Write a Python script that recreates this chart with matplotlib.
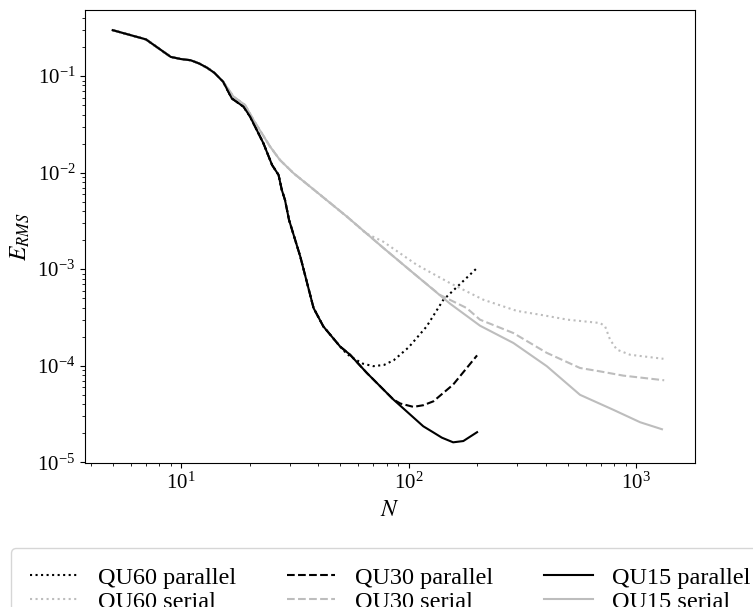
import matplotlib
matplotlib.use("Agg")
import matplotlib.pyplot as plt

plt.rcParams['font.family'] = ['Liberation Serif', 'DejaVu Serif']
plt.rcParams['mathtext.fontset'] = 'stix'
plt.rcParams['font.size'] = 15

# shared start of every run (parallel and serial agree here)
n_head = [5, 7, 9, 10, 11, 12, 13, 14]
e_head = [0.299, 0.24, 0.158, 0.150, 0.146, 0.135, 0.122, 0.108]

# parallel runs, common part until they split
n_par = [15.3, 16.7, 18.8, 20.1, 23.0, 25.1, 26.8, 27.7, 28.6, 29.8, 33.4, 38.2, 42.2, 50.0]
e_par = [0.0873, 0.0587, 0.0482, 0.038, 0.0201, 0.012, 0.00947, 0.00662, 0.00522, 0.00324,
         0.00135, 3.96e-4, 2.55e-4, 1.58e-4]

n_qu15_par = [55.3, 65.5, 85.7, 116, 128, 140, 157, 174, 200]
e_qu15_par = [1.30e-4, 8.43e-5, 4.47e-5, 2.36e-5, 2.05e-5, 1.8e-5, 1.61e-5, 1.66e-5, 2.05e-5]

n_qu60_par = [53.6, 57, 63, 70, 78, 86, 100, 120, 142, 200]
e_qu60_par = [1.32e-4, 1.2e-4, 1.05e-4, 9.9e-5, 1.02e-4, 1.14e-4, 1.55e-4, 2.55e-4, 4.8e-4, 1.03e-3]

n_qu30_par = [55.3, 65.5, 85.7, 92, 105, 116, 128.5, 157, 200]
e_qu30_par = [1.30e-4, 8.43e-5, 4.47e-5, 4.06e-5, 3.75e-5, 3.9e-5, 4.28e-5, 6.38e-5, 1.28e-4]

# serial runs, common part until they split
n_ser = [15.3, 17.0, 19.1, 20.8, 24.6, 27.2, 31.2, 36.9, 53.5]
e_ser = [0.0873, 0.0611, 0.0501, 0.0351, 0.0186, 0.0135, 0.00986, 0.00716, 0.00351]

n_qu15_ser = [77, 105, 152, 206, 289, 405, 567, 794, 1042, 1300]
e_qu15_ser = [1.68e-3, 9.1e-4, 4.4e-4, 2.6e-4, 1.72e-4, 9.9e-5, 5.0e-5, 3.5e-5, 2.6e-5, 2.2e-5]

n_qu30_ser = [77, 105, 137, 180, 206, 289, 405, 567, 695, 879, 1330]
e_qu30_ser = [1.68e-3, 9.1e-4, 5.43e-4, 3.96e-4, 3.0e-4, 2.18e-4, 1.36e-4, 9.48e-5, 8.74e-5, 7.9e-5, 7.07e-5]

n_qu60_ser = [65, 77.3, 108.6, 152, 213, 299, 378, 500, 695, 731, 769, 823, 941, 1320]
e_qu60_ser = [2.35e-3, 1.93e-3, 1.11e-3, 7.18e-4, 4.83e-4, 3.7e-4, 3.38e-4, 3.0e-4, 2.77e-4, 2.56e-4,
              1.86e-4, 1.47e-4, 1.30e-4, 1.18e-4]

gray = '#bdbdbd'

fig = plt.figure(figsize=(7.53, 6.07), dpi=100)
ax = fig.add_axes([0.113, 0.237, 0.810, 0.747])

ax.plot(n_head + n_par + n_qu60_par, e_head + e_par + e_qu60_par, color='black', ls=':', lw=1.5,
        label='QU60 parallel')
ax.plot(n_head + n_ser + n_qu60_ser, e_head + e_ser + e_qu60_ser, color=gray, ls=':', lw=1.5,
        label='QU60 serial')
ax.plot(n_head + n_par + n_qu30_par, e_head + e_par + e_qu30_par, color='black', ls='--', lw=1.5,
        label='QU30 parallel')
ax.plot(n_head + n_ser + n_qu30_ser, e_head + e_ser + e_qu30_ser, color=gray, ls='--', lw=1.5,
        label='QU30 serial')
ax.plot(n_head + n_ser + n_qu15_ser, e_head + e_ser + e_qu15_ser, color=gray, ls='-', lw=1.5,
        label='QU15 serial')
ax.plot(n_head + n_par + n_qu15_par, e_head + e_par + e_qu15_par, color='black', ls='-', lw=1.5,
        label='QU15 parallel')

ax.set_xscale('log')
ax.set_yscale('log')
ax.set_xlim(3.78, 1817)
ax.set_ylim(9.8e-6, 0.487)
ax.set_xlabel('$N$', fontsize=17)
ax.set_ylabel('$E_{RMS}$', fontsize=17)

handles, labels = ax.get_legend_handles_labels()
order = ['QU60 parallel', 'QU60 serial', 'QU30 parallel', 'QU30 serial', 'QU15 parallel', 'QU15 serial']
hs = [handles[labels.index(l)] for l in order]
ax.legend(hs, order, loc='upper center', bbox_to_anchor=(0.5, -0.161), ncol=3, fontsize=17.5,
          borderpad=0.75, labelspacing=0.1, columnspacing=2.1)

fig.savefig('out.png', dpi=100)
